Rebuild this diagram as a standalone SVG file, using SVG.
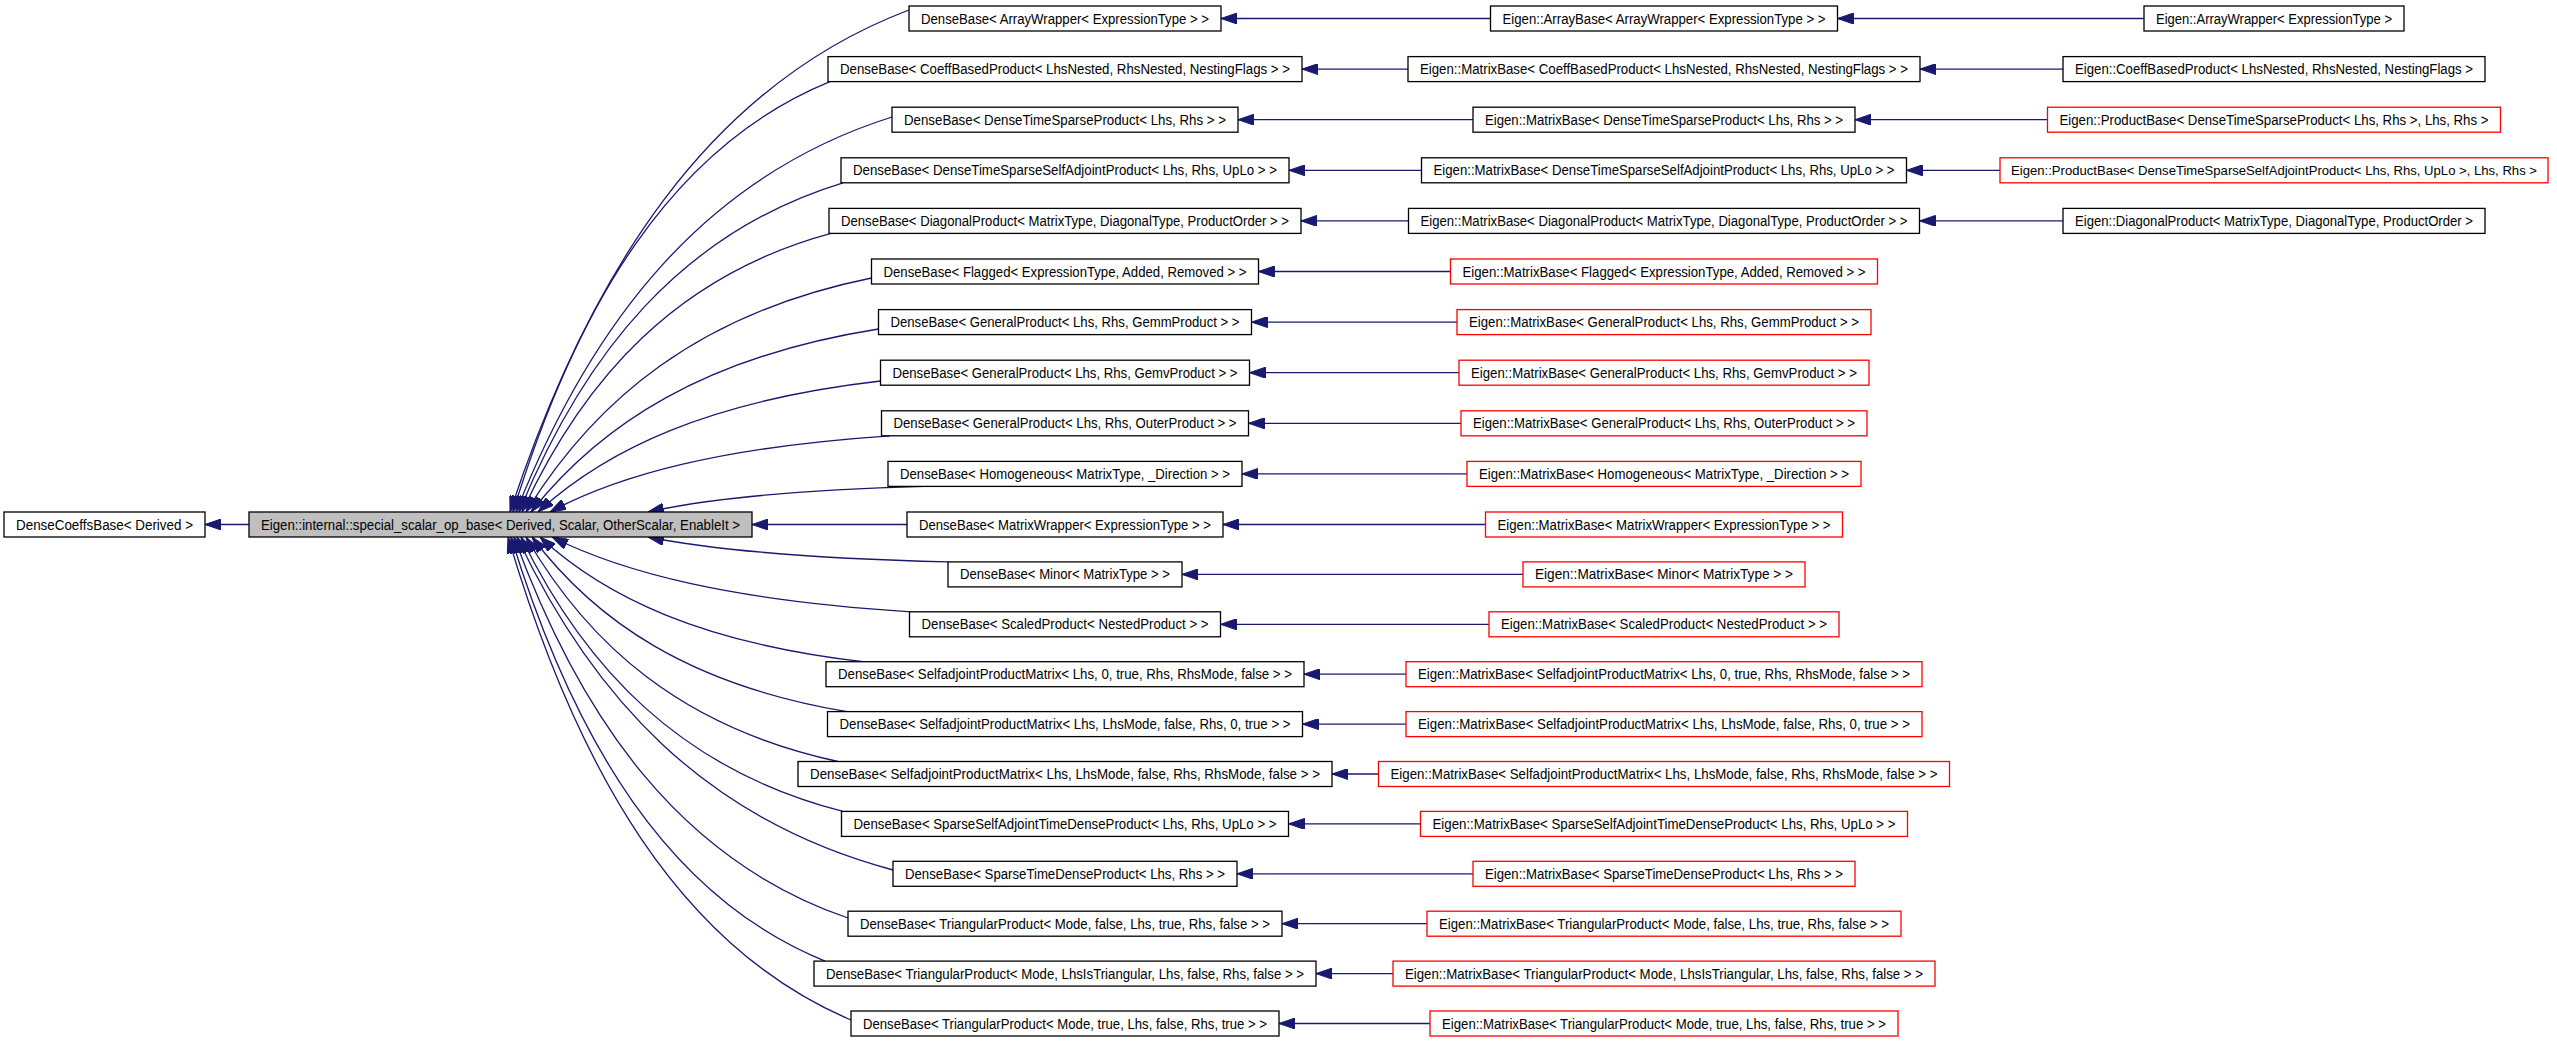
<svg xmlns="http://www.w3.org/2000/svg" width="2557" height="1051" viewBox="0 0 2557 1051">
<defs>
<style>
rect{fill:#fff;stroke:#000;stroke-width:1.3}
.r rect{stroke:#f00}
.g rect{fill:#bfbfbf}
text{font-family:"Liberation Sans",Arial,sans-serif;font-size:14px;text-anchor:middle;fill:#000}
.e path{fill:none;stroke:#191970;stroke-width:1.3;marker-end:url(#ah)}
</style>
<marker id="ah" viewBox="0 0 16 11" refX="16" refY="5.5" markerWidth="16" markerHeight="11" markerUnits="userSpaceOnUse" orient="auto"><path d="M0,0 L16,5.5 L0,11 z" fill="#191970" stroke="#191970"/></marker>
</defs>
<rect x="0" y="0" width="2557" height="1051" style="fill:#fff;stroke:none"/>
<g class="e" id="connectors">
<path d="M249,524.5 H205"/>
<path d="M909,10 C709.5,85.3 589.8,271 510,512"/>
<path d="M830,81.6 C671.5,146.2 576.4,305.4 513,512"/>
<path d="M892,117 C704,176.3 591.2,322.4 516,512"/>
<path d="M843,182.8 C681,232.2 583.8,354 519,512"/>
<path d="M831,233.4 C676.5,275.2 583.8,378.3 522,512"/>
<path d="M871.5,278 C698.8,313.1 595.1,399.7 526,512"/>
<path d="M878.5,329 C704.8,356.5 600.5,424.2 531,512"/>
<path d="M880.5,381 C709.3,400.7 606.5,449.1 538,512"/>
<path d="M890,435.8 C720,447.2 618,475.4 550,512"/>
<path d="M924,486.4 C786,490.2 703.2,499.7 648,512"/>
<path d="M907,524.5 H752"/>
<path d="M948,561.9 C798,558.2 708,549 648,537"/>
<path d="M911,611.8 C731.5,600.6 623.8,572.9 552,537"/>
<path d="M863,661.7 C701.5,643 604.6,596.9 540,537"/>
<path d="M847,711.6 C689.5,685.4 595,620.8 532,537"/>
<path d="M838,761.5 C682,727.8 588.4,644.8 526,537"/>
<path d="M843,811.4 C681.5,770.2 585.2,668.7 521,537"/>
<path d="M893,870 C705,820 592.2,696.8 517,537"/>
<path d="M848,918 C681,860.9 580.8,719.9 514,537"/>
<path d="M825,961.1 C668,897.5 573.8,740.6 511,537"/>
<path d="M851,1020 C679.5,947.6 576.6,768.8 508,537"/>
<path d="M1490.5,18.5 H1221"/>
<path d="M1408,69.1 H1302"/>
<path d="M1473,119.7 H1238"/>
<path d="M1421.5,170.3 H1289"/>
<path d="M1408.5,220.9 H1301"/>
<path d="M1450.5,271.5 H1258.5"/>
<path d="M1457,322.1 H1251.5"/>
<path d="M1459,372.7 H1249.5"/>
<path d="M1461,423.3 H1248.5"/>
<path d="M1467,473.9 H1242"/>
<path d="M1485.5,524.5 H1223"/>
<path d="M1523,574.4 H1182"/>
<path d="M1489,624.3 H1220.5"/>
<path d="M1406,674.2 H1304"/>
<path d="M1406,724.1 H1302.5"/>
<path d="M1378.5,774 H1332"/>
<path d="M1420.5,823.9 H1288.5"/>
<path d="M1473,873.8 H1237"/>
<path d="M1427,923.7 H1282"/>
<path d="M1393,973.6 H1316"/>
<path d="M1430,1023.5 H1279"/>
<path d="M2144,18.5 H1837.5"/>
<path d="M2063,69.1 H1920"/>
<path d="M2047.5,119.7 H1855"/>
<path d="M2000,170.3 H1906.5"/>
<path d="M2063,220.9 H1919.5"/>
</g>
<g id="n_densecoeffsbase"><rect x="4" y="512" width="201" height="25"/><text x="104.5" y="529.5" textLength="177" lengthAdjust="spacingAndGlyphs">DenseCoeffsBase&lt; Derived &gt;</text></g>
<g id="n_special" class="g"><rect x="249" y="512" width="503" height="25"/><text x="500.5" y="529.5" textLength="479" lengthAdjust="spacingAndGlyphs">Eigen::internal::special_scalar_op_base&lt; Derived, Scalar, OtherScalar, EnableIt &gt;</text></g>
<g id="n_db_0"><rect x="909" y="6" width="312" height="25"/><text x="1065" y="23.5" textLength="288" lengthAdjust="spacingAndGlyphs">DenseBase&lt; ArrayWrapper&lt; ExpressionType &gt; &gt;</text></g>
<g id="n_db_1"><rect x="828" y="56.6" width="474" height="25"/><text x="1065" y="74.1" textLength="450" lengthAdjust="spacingAndGlyphs">DenseBase&lt; CoeffBasedProduct&lt; LhsNested, RhsNested, NestingFlags &gt; &gt;</text></g>
<g id="n_db_2"><rect x="892" y="107.2" width="346" height="25"/><text x="1065" y="124.7" textLength="322" lengthAdjust="spacingAndGlyphs">DenseBase&lt; DenseTimeSparseProduct&lt; Lhs, Rhs &gt; &gt;</text></g>
<g id="n_db_3"><rect x="841" y="157.8" width="448" height="25"/><text x="1065" y="175.3" textLength="424" lengthAdjust="spacingAndGlyphs">DenseBase&lt; DenseTimeSparseSelfAdjointProduct&lt; Lhs, Rhs, UpLo &gt; &gt;</text></g>
<g id="n_db_4"><rect x="829" y="208.4" width="472" height="25"/><text x="1065" y="225.9" textLength="448" lengthAdjust="spacingAndGlyphs">DenseBase&lt; DiagonalProduct&lt; MatrixType, DiagonalType, ProductOrder &gt; &gt;</text></g>
<g id="n_db_5"><rect x="871.5" y="259" width="387" height="25"/><text x="1065" y="276.5" textLength="363" lengthAdjust="spacingAndGlyphs">DenseBase&lt; Flagged&lt; ExpressionType, Added, Removed &gt; &gt;</text></g>
<g id="n_db_6"><rect x="878.5" y="309.6" width="373" height="25"/><text x="1065" y="327.1" textLength="349" lengthAdjust="spacingAndGlyphs">DenseBase&lt; GeneralProduct&lt; Lhs, Rhs, GemmProduct &gt; &gt;</text></g>
<g id="n_db_7"><rect x="880.5" y="360.2" width="369" height="25"/><text x="1065" y="377.7" textLength="345" lengthAdjust="spacingAndGlyphs">DenseBase&lt; GeneralProduct&lt; Lhs, Rhs, GemvProduct &gt; &gt;</text></g>
<g id="n_db_8"><rect x="881.5" y="410.8" width="367" height="25"/><text x="1065" y="428.3" textLength="343" lengthAdjust="spacingAndGlyphs">DenseBase&lt; GeneralProduct&lt; Lhs, Rhs, OuterProduct &gt; &gt;</text></g>
<g id="n_db_9"><rect x="888" y="461.4" width="354" height="25"/><text x="1065" y="478.9" textLength="330" lengthAdjust="spacingAndGlyphs">DenseBase&lt; Homogeneous&lt; MatrixType, _Direction &gt; &gt;</text></g>
<g id="n_db_10"><rect x="907" y="512" width="316" height="25"/><text x="1065" y="529.5" textLength="292" lengthAdjust="spacingAndGlyphs">DenseBase&lt; MatrixWrapper&lt; ExpressionType &gt; &gt;</text></g>
<g id="n_db_11"><rect x="948" y="561.9" width="234" height="25"/><text x="1065" y="579.4" textLength="210" lengthAdjust="spacingAndGlyphs">DenseBase&lt; Minor&lt; MatrixType &gt; &gt;</text></g>
<g id="n_db_12"><rect x="909.5" y="611.8" width="311" height="25"/><text x="1065" y="629.3" textLength="287" lengthAdjust="spacingAndGlyphs">DenseBase&lt; ScaledProduct&lt; NestedProduct &gt; &gt;</text></g>
<g id="n_db_13"><rect x="826" y="661.7" width="478" height="25"/><text x="1065" y="679.2" textLength="454" lengthAdjust="spacingAndGlyphs">DenseBase&lt; SelfadjointProductMatrix&lt; Lhs, 0, true, Rhs, RhsMode, false &gt; &gt;</text></g>
<g id="n_db_14"><rect x="827.5" y="711.6" width="475" height="25"/><text x="1065" y="729.1" textLength="451" lengthAdjust="spacingAndGlyphs">DenseBase&lt; SelfadjointProductMatrix&lt; Lhs, LhsMode, false, Rhs, 0, true &gt; &gt;</text></g>
<g id="n_db_15"><rect x="798" y="761.5" width="534" height="25"/><text x="1065" y="779" textLength="510" lengthAdjust="spacingAndGlyphs">DenseBase&lt; SelfadjointProductMatrix&lt; Lhs, LhsMode, false, Rhs, RhsMode, false &gt; &gt;</text></g>
<g id="n_db_16"><rect x="841.5" y="811.4" width="447" height="25"/><text x="1065" y="828.9" textLength="423" lengthAdjust="spacingAndGlyphs">DenseBase&lt; SparseSelfAdjointTimeDenseProduct&lt; Lhs, Rhs, UpLo &gt; &gt;</text></g>
<g id="n_db_17"><rect x="893" y="861.3" width="344" height="25"/><text x="1065" y="878.8" textLength="320" lengthAdjust="spacingAndGlyphs">DenseBase&lt; SparseTimeDenseProduct&lt; Lhs, Rhs &gt; &gt;</text></g>
<g id="n_db_18"><rect x="848" y="911.2" width="434" height="25"/><text x="1065" y="928.7" textLength="410" lengthAdjust="spacingAndGlyphs">DenseBase&lt; TriangularProduct&lt; Mode, false, Lhs, true, Rhs, false &gt; &gt;</text></g>
<g id="n_db_19"><rect x="814" y="961.1" width="502" height="25"/><text x="1065" y="978.6" textLength="478" lengthAdjust="spacingAndGlyphs">DenseBase&lt; TriangularProduct&lt; Mode, LhsIsTriangular, Lhs, false, Rhs, false &gt; &gt;</text></g>
<g id="n_db_20"><rect x="851" y="1011" width="428" height="25"/><text x="1065" y="1028.5" textLength="404" lengthAdjust="spacingAndGlyphs">DenseBase&lt; TriangularProduct&lt; Mode, true, Lhs, false, Rhs, true &gt; &gt;</text></g>
<g id="n_mb_0"><rect x="1490.5" y="6" width="347" height="25"/><text x="1664" y="23.5" textLength="323" lengthAdjust="spacingAndGlyphs">Eigen::ArrayBase&lt; ArrayWrapper&lt; ExpressionType &gt; &gt;</text></g>
<g id="n_mb_1"><rect x="1408" y="56.6" width="512" height="25"/><text x="1664" y="74.1" textLength="488" lengthAdjust="spacingAndGlyphs">Eigen::MatrixBase&lt; CoeffBasedProduct&lt; LhsNested, RhsNested, NestingFlags &gt; &gt;</text></g>
<g id="n_mb_2"><rect x="1473" y="107.2" width="382" height="25"/><text x="1664" y="124.7" textLength="358" lengthAdjust="spacingAndGlyphs">Eigen::MatrixBase&lt; DenseTimeSparseProduct&lt; Lhs, Rhs &gt; &gt;</text></g>
<g id="n_mb_3"><rect x="1421.5" y="157.8" width="485" height="25"/><text x="1664" y="175.3" textLength="461" lengthAdjust="spacingAndGlyphs">Eigen::MatrixBase&lt; DenseTimeSparseSelfAdjointProduct&lt; Lhs, Rhs, UpLo &gt; &gt;</text></g>
<g id="n_mb_4"><rect x="1408.5" y="208.4" width="511" height="25"/><text x="1664" y="225.9" textLength="487" lengthAdjust="spacingAndGlyphs">Eigen::MatrixBase&lt; DiagonalProduct&lt; MatrixType, DiagonalType, ProductOrder &gt; &gt;</text></g>
<g id="n_mb_5" class="r"><rect x="1450.5" y="259" width="427" height="25"/><text x="1664" y="276.5" textLength="403" lengthAdjust="spacingAndGlyphs">Eigen::MatrixBase&lt; Flagged&lt; ExpressionType, Added, Removed &gt; &gt;</text></g>
<g id="n_mb_6" class="r"><rect x="1457" y="309.6" width="414" height="25"/><text x="1664" y="327.1" textLength="390" lengthAdjust="spacingAndGlyphs">Eigen::MatrixBase&lt; GeneralProduct&lt; Lhs, Rhs, GemmProduct &gt; &gt;</text></g>
<g id="n_mb_7" class="r"><rect x="1459" y="360.2" width="410" height="25"/><text x="1664" y="377.7" textLength="386" lengthAdjust="spacingAndGlyphs">Eigen::MatrixBase&lt; GeneralProduct&lt; Lhs, Rhs, GemvProduct &gt; &gt;</text></g>
<g id="n_mb_8" class="r"><rect x="1461" y="410.8" width="406" height="25"/><text x="1664" y="428.3" textLength="382" lengthAdjust="spacingAndGlyphs">Eigen::MatrixBase&lt; GeneralProduct&lt; Lhs, Rhs, OuterProduct &gt; &gt;</text></g>
<g id="n_mb_9" class="r"><rect x="1467" y="461.4" width="394" height="25"/><text x="1664" y="478.9" textLength="370" lengthAdjust="spacingAndGlyphs">Eigen::MatrixBase&lt; Homogeneous&lt; MatrixType, _Direction &gt; &gt;</text></g>
<g id="n_mb_10" class="r"><rect x="1485.5" y="512" width="357" height="25"/><text x="1664" y="529.5" textLength="333" lengthAdjust="spacingAndGlyphs">Eigen::MatrixBase&lt; MatrixWrapper&lt; ExpressionType &gt; &gt;</text></g>
<g id="n_mb_11" class="r"><rect x="1523" y="561.9" width="282" height="25"/><text x="1664" y="579.4" textLength="258" lengthAdjust="spacingAndGlyphs">Eigen::MatrixBase&lt; Minor&lt; MatrixType &gt; &gt;</text></g>
<g id="n_mb_12" class="r"><rect x="1489" y="611.8" width="350" height="25"/><text x="1664" y="629.3" textLength="326" lengthAdjust="spacingAndGlyphs">Eigen::MatrixBase&lt; ScaledProduct&lt; NestedProduct &gt; &gt;</text></g>
<g id="n_mb_13" class="r"><rect x="1406" y="661.7" width="516" height="25"/><text x="1664" y="679.2" textLength="492" lengthAdjust="spacingAndGlyphs">Eigen::MatrixBase&lt; SelfadjointProductMatrix&lt; Lhs, 0, true, Rhs, RhsMode, false &gt; &gt;</text></g>
<g id="n_mb_14" class="r"><rect x="1406" y="711.6" width="516" height="25"/><text x="1664" y="729.1" textLength="492" lengthAdjust="spacingAndGlyphs">Eigen::MatrixBase&lt; SelfadjointProductMatrix&lt; Lhs, LhsMode, false, Rhs, 0, true &gt; &gt;</text></g>
<g id="n_mb_15" class="r"><rect x="1378.5" y="761.5" width="571" height="25"/><text x="1664" y="779" textLength="547" lengthAdjust="spacingAndGlyphs">Eigen::MatrixBase&lt; SelfadjointProductMatrix&lt; Lhs, LhsMode, false, Rhs, RhsMode, false &gt; &gt;</text></g>
<g id="n_mb_16" class="r"><rect x="1420.5" y="811.4" width="487" height="25"/><text x="1664" y="828.9" textLength="463" lengthAdjust="spacingAndGlyphs">Eigen::MatrixBase&lt; SparseSelfAdjointTimeDenseProduct&lt; Lhs, Rhs, UpLo &gt; &gt;</text></g>
<g id="n_mb_17" class="r"><rect x="1473" y="861.3" width="382" height="25"/><text x="1664" y="878.8" textLength="358" lengthAdjust="spacingAndGlyphs">Eigen::MatrixBase&lt; SparseTimeDenseProduct&lt; Lhs, Rhs &gt; &gt;</text></g>
<g id="n_mb_18" class="r"><rect x="1427" y="911.2" width="474" height="25"/><text x="1664" y="928.7" textLength="450" lengthAdjust="spacingAndGlyphs">Eigen::MatrixBase&lt; TriangularProduct&lt; Mode, false, Lhs, true, Rhs, false &gt; &gt;</text></g>
<g id="n_mb_19" class="r"><rect x="1393" y="961.1" width="542" height="25"/><text x="1664" y="978.6" textLength="518" lengthAdjust="spacingAndGlyphs">Eigen::MatrixBase&lt; TriangularProduct&lt; Mode, LhsIsTriangular, Lhs, false, Rhs, false &gt; &gt;</text></g>
<g id="n_mb_20" class="r"><rect x="1430" y="1011" width="468" height="25"/><text x="1664" y="1028.5" textLength="444" lengthAdjust="spacingAndGlyphs">Eigen::MatrixBase&lt; TriangularProduct&lt; Mode, true, Lhs, false, Rhs, true &gt; &gt;</text></g>
<g id="n_leaf_0"><rect x="2144" y="6" width="260" height="25"/><text x="2274" y="23.5" textLength="236" lengthAdjust="spacingAndGlyphs">Eigen::ArrayWrapper&lt; ExpressionType &gt;</text></g>
<g id="n_leaf_1"><rect x="2063" y="56.6" width="422" height="25"/><text x="2274" y="74.1" textLength="398" lengthAdjust="spacingAndGlyphs">Eigen::CoeffBasedProduct&lt; LhsNested, RhsNested, NestingFlags &gt;</text></g>
<g id="n_leaf_2" class="r"><rect x="2047.5" y="107.2" width="453" height="25"/><text x="2274" y="124.7" textLength="429" lengthAdjust="spacingAndGlyphs">Eigen::ProductBase&lt; DenseTimeSparseProduct&lt; Lhs, Rhs &gt;, Lhs, Rhs &gt;</text></g>
<g id="n_leaf_3" class="r"><rect x="2000" y="157.8" width="548" height="25"/><text x="2274" y="175.3" font-size="13.2" textLength="526" lengthAdjust="spacingAndGlyphs" style="font-size:13.2px">Eigen::ProductBase&lt; DenseTimeSparseSelfAdjointProduct&lt; Lhs, Rhs, UpLo &gt;, Lhs, Rhs &gt;</text></g>
<g id="n_leaf_4"><rect x="2063" y="208.4" width="422" height="25"/><text x="2274" y="225.9" textLength="398" lengthAdjust="spacingAndGlyphs">Eigen::DiagonalProduct&lt; MatrixType, DiagonalType, ProductOrder &gt;</text></g>
</svg>
